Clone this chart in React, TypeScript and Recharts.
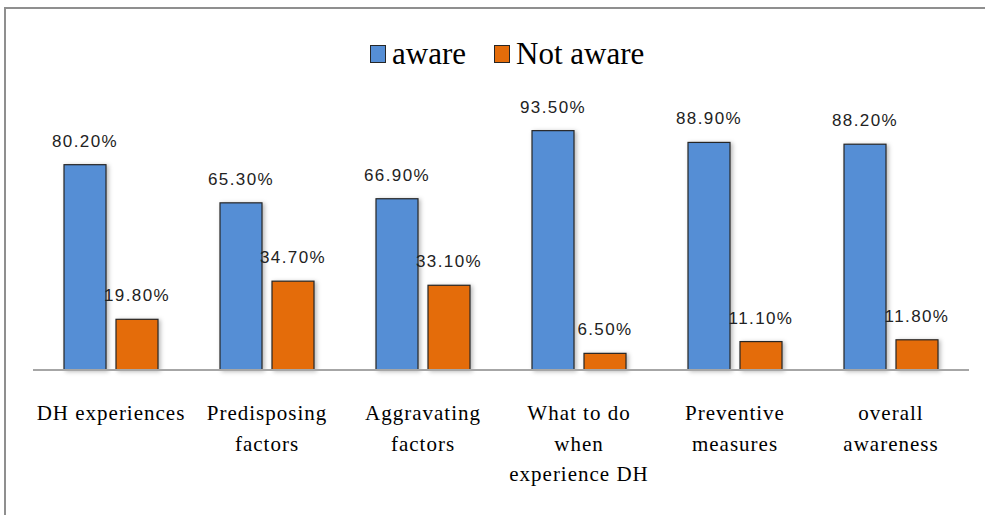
import React from 'react';
import { BarChart, Bar, XAxis, YAxis, LabelList } from 'recharts';

const categories = [
  'DH experiences',
  'Predisposing\nfactors',
  'Aggravating\nfactors',
  'What to do\nwhen\nexperience DH',
  'Preventive\nmeasures',
  'overall\nawareness',
];
const aware = [80.2, 65.3, 66.9, 93.5, 88.9, 88.2];
const notAware = [19.8, 34.7, 33.1, 6.5, 11.1, 11.8];
const seriesNames = ['aware', 'Not aware'];
const seriesColors = ['#558ED5', '#E46C0A'];

const data = categories.map((name, i) => ({
  name,
  aware: aware[i],
  notAware: notAware[i],
}));

const LABEL_FONT = 'Liberation Sans, Arial, sans-serif';
const SERIF_FONT = 'Liberation Serif, Times New Roman, serif';

const CategoryTick = (props: any) => {
  const { x, y, payload } = props;
  const lines = String(payload.value).split('\n');
  return (
    <g>
      {lines.map((line, i) => (
        <text
          key={i}
          x={x}
          y={y + 50 + i * 30.5}
          textAnchor="middle"
          fontFamily={SERIF_FONT}
          fontSize={21}
          letterSpacing={1}
          fill="#000"
          style={{ fontFamily: SERIF_FONT }}
        >
          {line}
        </text>
      ))}
    </g>
  );
};

const ValueLabel = (props: any) => {
  const { x, y, width, value } = props;
  return (
    <text
      x={x + width / 2}
      y={y - 18}
      textAnchor="middle"
      fontFamily={LABEL_FONT}
      fontSize={17}
      letterSpacing={1.4}
      fill="#222"
    >
      {value.toFixed(2) + '%'}
    </text>
  );
};

const ShadowBar = (props: any) => {
  const { x, y, width, height, fill } = props;
  return (
    <rect
      x={x}
      y={y}
      width={width}
      height={height}
      fill={fill}
      stroke="#262626"
      strokeWidth={1.2}
      style={{ filter: 'drop-shadow(2px 1px 2px rgba(0,0,0,0.28))' }}
    />
  );
};

// Legend drawn as a plain overlay so it does not shrink the plot area
const ChartLegend = () => (
  <div
    style={{
      position: 'absolute',
      left: 370,
      top: 37,
      display: 'flex',
      alignItems: 'center',
      fontFamily: SERIF_FONT,
      fontSize: 31,
      color: '#000',
      lineHeight: '34px',
      whiteSpace: 'nowrap',
    }}
  >
    {seriesNames.map((n, i) => (
      <div key={n} style={{ display: 'flex', alignItems: 'center', marginRight: 28 }}>
        <span
          style={{
            display: 'inline-block',
            width: 14,
            height: 16,
            background: seriesColors[i],
            border: '1px solid #262626',
            marginRight: 6,
          }}
        />
        <span>{n}</span>
      </div>
    ))}
  </div>
);

export default function App() {
  return (
    <div style={{ position: 'absolute', left: 0, top: 0, width: 985, height: 515, background: '#fff' }}>
      <div
        style={{
          position: 'absolute',
          left: 4,
          top: 7,
          width: 985,
          height: 515,
          borderTop: '2px solid #8f8f8f',
          borderLeft: '2px solid #8f8f8f',
          boxSizing: 'border-box',
        }}
      />
      <div style={{ position: 'absolute', left: 0, top: 0 }}>
        <BarChart
          width={985}
          height={515}
          data={data}
          margin={{ top: 114, right: 16, bottom: 0, left: 33 }}
          barGap={10}
          barSize={42}
        >
          <YAxis hide domain={[0, 100]} />
          <XAxis
            dataKey="name"
            height={145}
            interval={0}
            tickLine={false}
            tickSize={0}
            tickMargin={0}
            tick={<CategoryTick />}
            axisLine={{ stroke: '#A6A6A6', strokeWidth: 2 }}
          />
          <Bar dataKey="aware" name={seriesNames[0]} fill={seriesColors[0]} shape={<ShadowBar />} isAnimationActive={false}>
            <LabelList dataKey="aware" content={<ValueLabel />} />
          </Bar>
          <Bar dataKey="notAware" name={seriesNames[1]} fill={seriesColors[1]} shape={<ShadowBar />} isAnimationActive={false}>
            <LabelList dataKey="notAware" content={<ValueLabel />} />
          </Bar>
        </BarChart>
      </div>
      <ChartLegend />
    </div>
  );
}
